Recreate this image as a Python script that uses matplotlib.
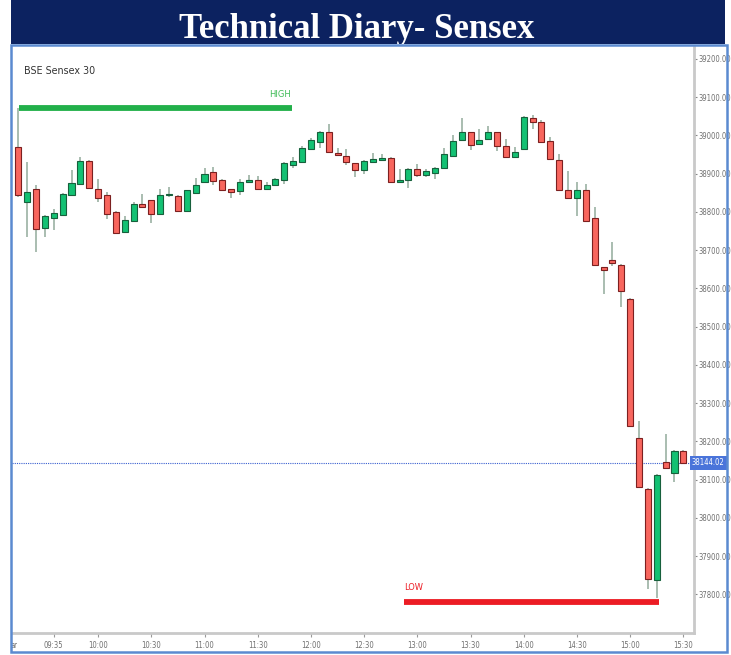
import numpy as np
import pandas as pd
import matplotlib
matplotlib.use("Agg")
import matplotlib.pyplot as plt
from matplotlib import font_manager
from matplotlib.font_manager import FontProperties
from matplotlib.patches import Rectangle

# 5-minute candles, 09:15 -> 15:30 (BSE Sensex 30, intraday)
times = pd.date_range("09:15", "15:30", freq="5min").strftime("%H:%M").tolist()

opens = [38969, 38825, 38860, 38759, 38783, 38792, 38844, 38874, 38933, 38860,
         38844, 38799, 38747, 38777, 38821, 38830, 38795, 38843, 38842, 38801,
         38850, 38878, 38903, 38884, 38859, 38854, 38878, 38884, 38861, 38871,
         38883, 38923, 38931, 38965, 38983, 39009, 38954, 38947, 38927, 38910,
         38931, 38935, 38942, 38878, 38884, 38912, 38896, 38902, 38914, 38947,
         38987, 39008, 38978, 38990, 39008, 38972, 38944, 38965, 39045, 39036,
         38985, 38936, 38857, 38835, 38857, 38784, 38655, 38675, 38662, 38572,
         38210, 38076, 37838, 38145, 38118, 38176]
highs = [39071, 38931, 38870, 38792, 38807, 38850, 38910, 38943, 38936, 38885,
         38852, 38803, 38788, 38827, 38848, 38832, 38861, 38864, 38843, 38858,
         38888, 38915, 38918, 38886, 38861, 38885, 38897, 38893, 38878, 38889,
         38930, 38943, 38971, 38993, 39012, 39029, 38966, 38964, 38929, 38935,
         38955, 38952, 38944, 38912, 38914, 38925, 38912, 38916, 38967, 39000,
         39046, 39010, 39016, 39025, 39010, 38990, 38970, 39050, 39054, 39040,
         38995, 38952, 38907, 38879, 38873, 38812, 38657, 38721, 38664, 38574,
         38253, 38078, 38114, 38219, 38178, 38178]
lows = [38840, 38735, 38694, 38734, 38753, 38790, 38843, 38872, 38860, 38826,
        38782, 38742, 38745, 38776, 38812, 38770, 38794, 38838, 38800, 38800,
        38849, 38877, 38871, 38855, 38837, 38844, 38876, 38857, 38857, 38869,
        38872, 38914, 38930, 38963, 38966, 38954, 38946, 38923, 38890, 38899,
        38929, 38933, 38875, 38876, 38862, 38892, 38890, 38885, 38912, 38945,
        38985, 38962, 38976, 38988, 38958, 38942, 38942, 38963, 39016, 38981,
        38936, 38855, 38833, 38788, 38775, 38660, 38585, 38659, 38551, 38237,
        38078, 37813, 37790, 38128, 38093, 38142]
closes = [38844, 38851, 38756, 38788, 38796, 38848, 38876, 38933, 38862, 38837,
          38795, 38746, 38779, 38820, 38814, 38795, 38844, 38845, 38801, 38857,
          38869, 38899, 38880, 38857, 38853, 38878, 38883, 38859, 38870, 38887,
          38928, 38933, 38966, 38987, 39009, 38956, 38948, 38930, 38910, 38933,
          38939, 38942, 38878, 38884, 38912, 38896, 38906, 38914, 38952, 38985,
          39008, 38975, 38987, 39008, 38971, 38944, 38957, 39049, 39035, 38983,
          38938, 38857, 38835, 38857, 38777, 38662, 38649, 38667, 38594, 38239,
          38080, 37840, 38112, 38130, 38176, 38144.02]

last_price = 38144.02
high_level = 39071
low_level = 37780
tick_times = ["09:35", "10:00", "10:30", "11:00", "11:30", "12:00", "12:30",
              "13:00", "13:30", "14:00", "14:30", "15:00", "15:30"]
price_ticks = list(range(37800, 39201, 100))

# look for a condensed sans font file; fall back to a tiny DejaVu Sans
narrow_file = None
for key in ["LiberationSansNarrow-Regular", "DejaVuSansCondensed.ttf",
            "RobotoCondensed-Regular", "Roboto_Condensed", "OpenSans_Condensed-Regular",
            "NotoSans-Condensed.ttf", "NotoSansDisplay-Condensed"]:
    for f in font_manager.fontManager.ttflist:
        if key in f.fname:
            narrow_file = f.fname
            break
    if narrow_file:
        break
if narrow_file:
    fp = FontProperties(fname=narrow_file)
    small = 5.5
else:
    fp = FontProperties(family="DejaVu Sans")
    small = 4.3


def nfont(size):
    p = fp.copy()
    p.set_size(size)
    return p


W, H = 731, 655
fig = plt.figure(figsize=(W / 100, H / 100), dpi=100)

# title banner
fig.patches.append(Rectangle((11 / W, 1 - 44 / H), 714 / W, 44 / H,
                             transform=fig.transFigure, facecolor="#0c2260",
                             edgecolor="none", zorder=0))
fig.text(357 / W, 1 - 38 / H, "Technical Diary- Sensex", ha="center", va="baseline",
         color="white", fontsize=25, fontweight="bold", family="Liberation Serif", zorder=5)

ax = fig.add_axes([12 / W, 22 / H, 682 / W, 586 / H])
x = np.arange(len(times))
o = np.array(opens, dtype=float)
c = np.array(closes, dtype=float)
up = c >= o

ax.vlines(x, lows, highs, color="#a2b7aa", linewidth=1.3, zorder=2)
body_h = np.maximum(np.abs(c - o), 4)
ax.bar(x[up], body_h[up], bottom=np.minimum(o, c)[up], width=0.68,
       color="#13c173", edgecolor="#17603c", linewidth=0.8, zorder=3)
ax.bar(x[~up], body_h[~up], bottom=np.minimum(o, c)[~up], width=0.68,
       color="#f8665e", edgecolor="#7c2020", linewidth=0.8, zorder=3)

# high / low markers
ax.hlines(high_level, 0.05, 30.9, color="#22b04a", linewidth=4.2, zorder=4)
ax.text(30.7, 39108, "HIGH", color="#3dbb55", ha="right", va="center",
        fontproperties=nfont(small + 1.2))
ax.hlines(low_level, 43.5, 72.2, color="#ec1c24", linewidth=4.2, zorder=4)
ax.text(43.5, 37819, "LOW", color="#ec1c24", ha="left", va="center",
        fontproperties=nfont(small + 1.2))

# last price line and tag
ax.axhline(last_price, color="#3a5fd0", linewidth=0.8, linestyle=(0, (1, 1)), zorder=1)
ax.text(0.997, last_price, f"{last_price:.2f}", transform=ax.get_yaxis_transform(),
        ha="left", va="center", color="white", fontproperties=nfont(small),
        bbox=dict(boxstyle="square,pad=0.3", fc="#4a74da", ec="none"), zorder=6,
        clip_on=False)

ax.text(0.018, 0.959, "BSE Sensex 30", transform=ax.transAxes, color="#333333",
        fontproperties=nfont(small + 2.2), va="center")

ax.set_xlim(-0.71, 76.2)
ax.set_ylim(37699, 39231)

ax.yaxis.tick_right()
ax.set_yticks(price_ticks)
ax.set_yticklabels([f"{v:.2f}" for v in price_ticks])
ax.set_xticks([times.index(t) for t in tick_times])
ax.set_xticklabels(tick_times)
ax.tick_params(axis="y", direction="out", length=2.5, width=0.8, colors="#888888",
               labelcolor="#707070", pad=1)
ax.tick_params(axis="x", direction="out", length=3, width=0.8, colors="#999999",
               labelcolor="#707070", pad=3)
for lab in ax.get_xticklabels() + ax.get_yticklabels():
    lab.set_fontproperties(nfont(small))

for s in ["left", "top"]:
    ax.spines[s].set_visible(False)
for s in ["right", "bottom"]:
    ax.spines[s].set_color("#c9c9c9")
    ax.spines[s].set_linewidth(2)

fig.text(11 / W, 1 - 646 / H, "ar", color="#707070", fontproperties=nfont(small),
         va="center", ha="left")

# outer frame
fig.patches.append(Rectangle((10.5 / W, 3 / H), 716.5 / W, 607 / H,
                             transform=fig.transFigure, facecolor="none",
                             edgecolor="#5b8ad0", linewidth=1.8, zorder=10))

fig.savefig("out.png", dpi=100)
